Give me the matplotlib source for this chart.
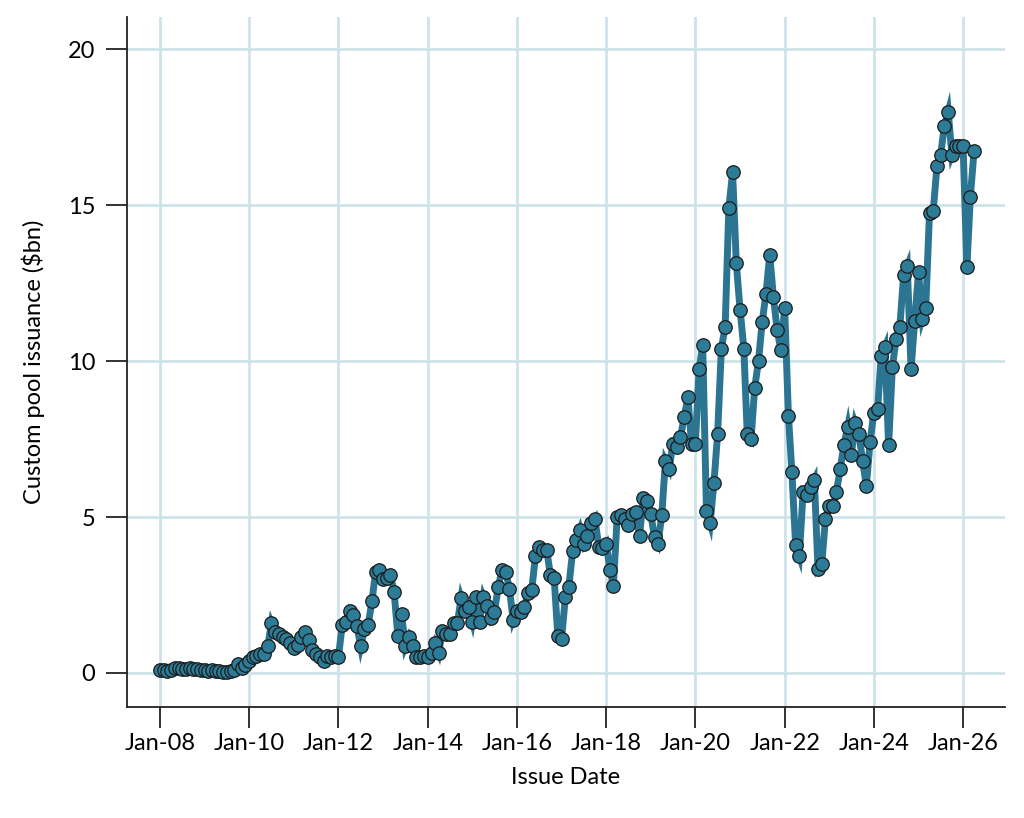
import matplotlib
matplotlib.use("Agg")
import matplotlib.pyplot as plt
import matplotlib.dates as mdates
import numpy as np
import pandas as pd

plt.rcParams['font.family'] = ['Lato', 'DejaVu Sans']

start_month = "2008-01"
values = [
    # 2008
    0.10, 0.10, 0.08, 0.10, 0.15, 0.15, 0.12, 0.12, 0.15, 0.12, 0.12, 0.10,
    # 2009
    0.10, 0.08, 0.10, 0.07, 0.05, 0.03, 0.03, 0.05, 0.10, 0.30, 0.15, 0.25,
    # 2010
    0.40, 0.50, 0.55, 0.60, 0.60, 0.85, 1.60, 1.30, 1.25, 1.15, 1.10, 0.95,
    # 2011
    0.80, 0.90, 1.15, 1.30, 1.05, 0.75, 0.60, 0.50, 0.40, 0.55, 0.50, 0.55,
    # 2012
    0.50, 1.55, 1.65, 2.00, 1.85, 1.50, 0.85, 1.40, 1.55, 2.30, 3.25, 3.30,
    # 2013
    3.00, 3.05, 3.15, 2.60, 1.20, 1.90, 0.85, 1.15, 0.85, 0.50, 0.50, 0.55,
    # 2014
    0.50, 0.65, 0.95, 0.65, 1.35, 1.25, 1.25, 1.60, 1.60, 2.40, 2.00, 2.10,
    # 2015
    1.65, 2.45, 1.65, 2.45, 2.15, 1.75, 1.95, 2.75, 3.30, 3.25, 2.70, 1.70,
    # 2016
    2.00, 1.95, 2.10, 2.55, 2.65, 3.75, 4.05, 3.95, 3.95, 3.15, 3.05, 1.20,
    # 2017
    1.10, 2.45, 2.75, 3.90, 4.25, 4.60, 4.15, 4.40, 4.80, 4.95, 4.05, 4.00,
    # 2018
    4.15, 3.30, 2.80, 5.00, 5.05, 4.95, 4.75, 5.10, 5.15, 4.40, 5.60, 5.50,
    # 2019
    5.10, 4.35, 4.15, 5.05, 6.80, 6.55, 7.35, 7.25, 7.55, 8.20, 8.85, 7.35,
    # 2020
    7.35, 9.75, 10.50, 5.20, 4.80, 6.10, 7.65, 10.40, 11.10, 14.90, 16.05, 13.15,
    # 2021
    11.65, 10.40, 7.65, 7.50, 9.15, 10.00, 11.25, 12.15, 13.40, 12.05, 11.00, 10.35,
    # 2022
    11.70, 8.25, 6.45, 4.10, 3.75, 5.80, 5.70, 5.95, 6.20, 3.35, 3.50, 4.95,
    # 2023
    5.35, 5.35, 5.80, 6.55, 7.30, 7.90, 7.00, 8.00, 7.65, 6.80, 6.00, 7.40,
    # 2024
    8.35, 8.45, 10.15, 10.45, 7.30, 9.80, 10.70, 11.10, 12.75, 13.05, 9.75, 11.30,
    # 2025
    12.85, 11.35, 11.70, 14.75, 14.80, 16.25, 16.60, 17.55, 18.00, 16.60, 16.90, 16.90,
    # 2026
    16.90, 13.00, 15.25, 16.75,
]
dates = pd.date_range(start=start_month, periods=len(values), freq="MS")
tick_years = list(range(2008, 2027, 2))
y_ticks = [0, 5, 10, 15, 20]

line_color = "#2b7592"
grid_color = "#cde3ea"

fig = plt.figure(figsize=(10.24, 8.18), dpi=100)
ax = fig.add_axes([127/1024, 1 - 707/818, (1005-127)/1024, (707-17)/818])

ax.plot(dates, values, color=line_color, linewidth=5.0, solid_joinstyle="miter",
        marker="o", markersize=9.7, markerfacecolor="#2c7b97",
        markeredgecolor="#1b1b1b", markeredgewidth=0.9, zorder=3)

ax.set_xticks([pd.Timestamp(f"{y}-01-01") for y in tick_years])
ax.xaxis.set_major_formatter(mdates.DateFormatter("%b-%y"))
ax.set_yticks(y_ticks)
ax.set_xlim(pd.Timestamp("2007-04-06"), pd.Timestamp("2026-12-10"))
ax.set_ylim(-1.09, 21.03)

ax.grid(True, color=grid_color, linewidth=2.0, zorder=0)
ax.set_axisbelow(True)
for s in ["top", "right"]:
    ax.spines[s].set_visible(False)
for s in ["left", "bottom"]:
    ax.spines[s].set_color("#222222")
    ax.spines[s].set_linewidth(1.3)
ax.tick_params(axis="both", direction="out", length=15, width=1.3, color="#222222",
               labelsize=17)
ax.tick_params(axis="x", pad=4)
ax.tick_params(axis="y", pad=8)

ax.set_xlabel("Issue Date", fontsize=17, labelpad=9)
ax.set_ylabel("Custom pool issuance ($bn)", fontsize=17)
ax.yaxis.set_label_coords(-0.093, 0.5)

fig.savefig("out.png", dpi=100)
